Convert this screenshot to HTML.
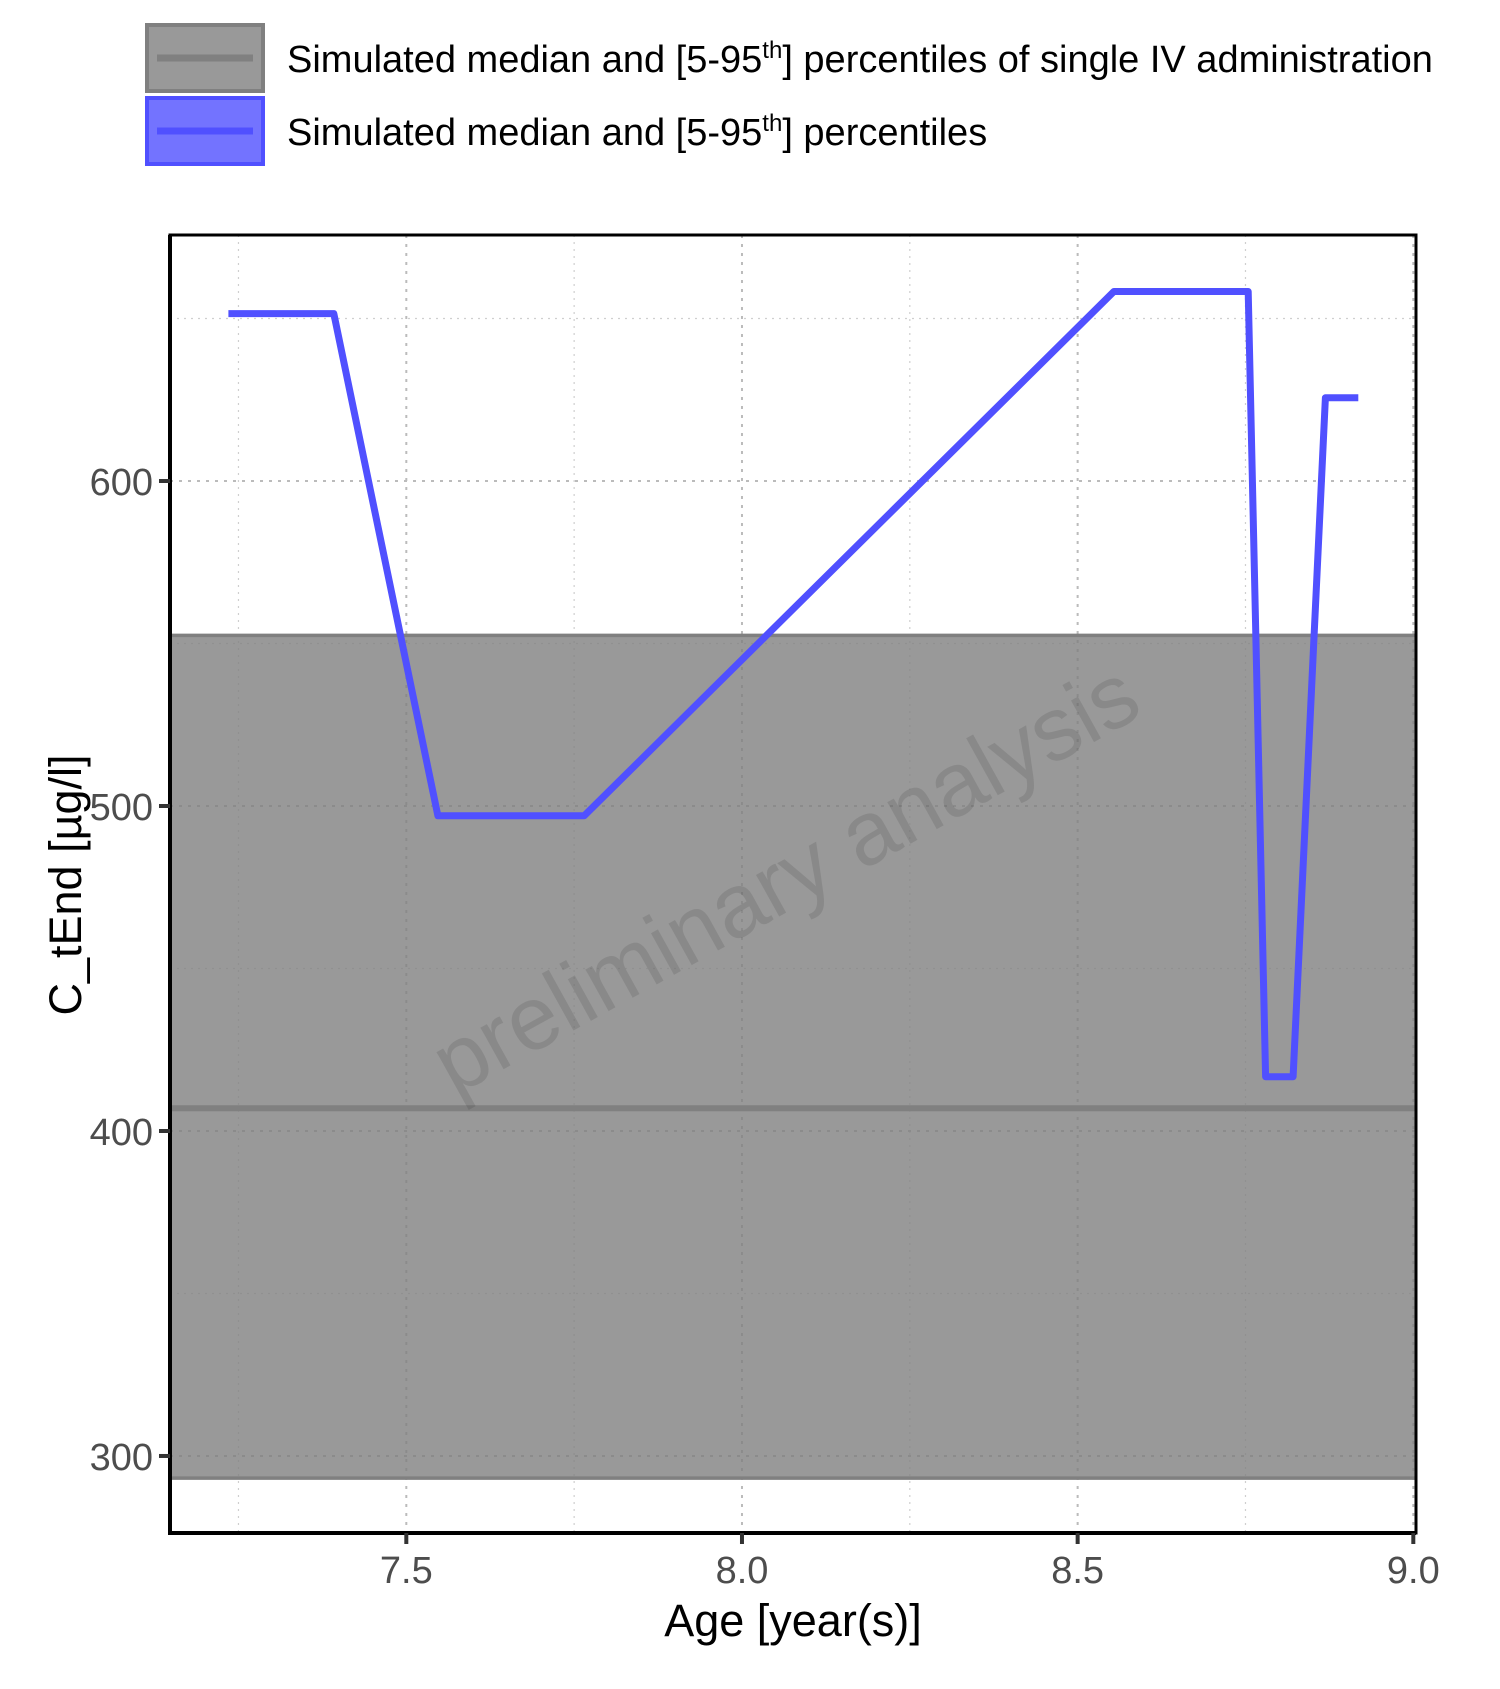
<!DOCTYPE html>
<html><head><meta charset="utf-8"><style>
html,body{margin:0;padding:0;background:#fff;}
svg{display:block;font-family:"Liberation Sans",Arial,sans-serif;}
</style></head><body>
<svg id="chart" width="1500" height="1689" viewBox="0 0 1500 1689" xmlns="http://www.w3.org/2000/svg">
<g id="legend">
  <g>
    <rect x="147" y="25" width="116" height="66" fill="#999999" stroke="#808080" stroke-width="4"/>
    <line x1="157" y1="58" x2="253" y2="58" stroke="#808080" stroke-width="7"/>
    <text x="287" y="72" font-size="38" fill="#000">Simulated median and [5-95<tspan font-size="24" dy="-14">th</tspan><tspan dy="14">] percentiles of single IV administration</tspan></text>
  </g>
  <g>
    <rect x="147" y="98" width="116" height="66" fill="#7373ff" stroke="#5050ff" stroke-width="4"/>
    <line x1="157" y1="131" x2="253" y2="131" stroke="#5050ff" stroke-width="7"/>
    <text x="287" y="145" font-size="38" fill="#000">Simulated median and [5-95<tspan font-size="24" dy="-14">th</tspan><tspan dy="14">] percentiles</tspan></text>
  </g>
</g>
<g id="plot"></g>
<text x="0" y="0" font-size="90" fill="#000" fill-opacity="0.1" text-anchor="middle" transform="translate(800,905) rotate(-29)">preliminary analysis</text>
<text x="793" y="1636" font-size="45" text-anchor="middle" fill="#000">Age [year(s)]</text>
<text x="0" y="0" font-size="45" text-anchor="middle" fill="#000" transform="translate(81,885) rotate(-90)">C_tEnd [µg/l]</text>
</svg>
<script>
const xTicks = [7.5, 8.0, 8.5, 9.0];
const xTickLabels = ["7.5", "8.0", "8.5", "9.0"];
const xMinor = [7.25, 7.75, 8.25, 8.75];
const yTicks = [300, 400, 500, 600];
const yTickLabels = ["300", "400", "500", "600"];
const yMinor = [350, 450, 550, 650];
const bandLow = [293.2];
const bandHigh = [552.5];
const bandMedian = [407];
const lineX = [7.235, 7.392, 7.547, 7.765, 8.554, 8.754, 8.780, 8.821, 8.869, 8.918];
const lineY = [651.5, 651.5, 497, 497, 658.3, 658.3, 416.7, 416.7, 625.6, 625.6];

const L=170, R=1416, T=235, B=1533;
const X0=7.148, X1=9.004, Y0=276.3, Y1=675.7;
const sx = v => L + (v - X0) / (X1 - X0) * (R - L);
const sy = v => B - (v - Y0) / (Y1 - Y0) * (B - T);
const NS = "http://www.w3.org/2000/svg";
const plot = document.getElementById('plot');
function mk(tag, attrs, parent){ const e=document.createElementNS(NS,tag); for(const k in attrs) e.setAttribute(k,attrs[k]); (parent||plot).appendChild(e); return e; }

yMinor.forEach(v=>{ const e=mk('line',{x1:L,x2:R,y1:sy(v),y2:sy(v),stroke:'#cfcfcf','stroke-width':1.2,'stroke-dasharray':'2 5'});

});
xMinor.forEach(v=>{ const e=mk('line',{x1:sx(v),x2:sx(v),y1:T,y2:B,stroke:'#cfcfcf','stroke-width':1.2,'stroke-dasharray':'2 5'});

});
yTicks.forEach(v=>{ const e=mk('line',{x1:L,x2:R,y1:sy(v),y2:sy(v),stroke:'#bbbbbb','stroke-width':2,'stroke-dasharray':'3 6'});

});
xTicks.forEach(v=>{ const e=mk('line',{x1:sx(v),x2:sx(v),y1:T,y2:B,stroke:'#bbbbbb','stroke-width':2,'stroke-dasharray':'3 6'});

});

const band = mk('rect',{x:L,y:sy(bandHigh[0]),width:R-L,height:sy(bandLow[0])-sy(bandHigh[0]),fill:'#808080','fill-opacity':0.8});


[bandHigh[0], bandLow[0]].forEach(v=>{ const e=mk('line',{x1:L,x2:R,y1:sy(v),y2:sy(v),stroke:'#808080','stroke-width':3.5});

});
const med = mk('line',{x1:L,x2:R,y1:sy(bandMedian[0]),y2:sy(bandMedian[0]),stroke:'#808080','stroke-width':6});



const pts = lineX.map((x,i)=>sx(x).toFixed(1)+','+sy(lineY[i]).toFixed(1)).join(' ');
const pl = mk('polyline',{points:pts,fill:'none',stroke:'#5050ff','stroke-width':7,'stroke-linejoin':'round'});



const ax = mk('path',{d:`M${L},${T} V${B} H${R} V${T} Z`,fill:'none',stroke:'#000','stroke-width':3});


const axl = mk('path',{d:`M${L},${T} V${B} H${R}`,fill:'none',stroke:'#000','stroke-width':4});



xTicks.forEach((v,i)=>{
  const t=mk('line',{x1:sx(v),x2:sx(v),y1:B,y2:B+11,stroke:'#333','stroke-width':4});
  
  
  const l=mk('text',{x:sx(v),y:B+50,'font-size':38,fill:'#4d4d4d','text-anchor':'middle'});
  l.textContent=xTickLabels[i];
  
  
});
yTicks.forEach((v,i)=>{
  const t=mk('line',{x1:L-11,x2:L,y1:sy(v),y2:sy(v),stroke:'#333','stroke-width':4});
  
  
  const l=mk('text',{x:L-17,y:sy(v)+14,'font-size':38,fill:'#4d4d4d','text-anchor':'end'});
  l.textContent=yTickLabels[i];
  
  
});
</script>
</body></html>
